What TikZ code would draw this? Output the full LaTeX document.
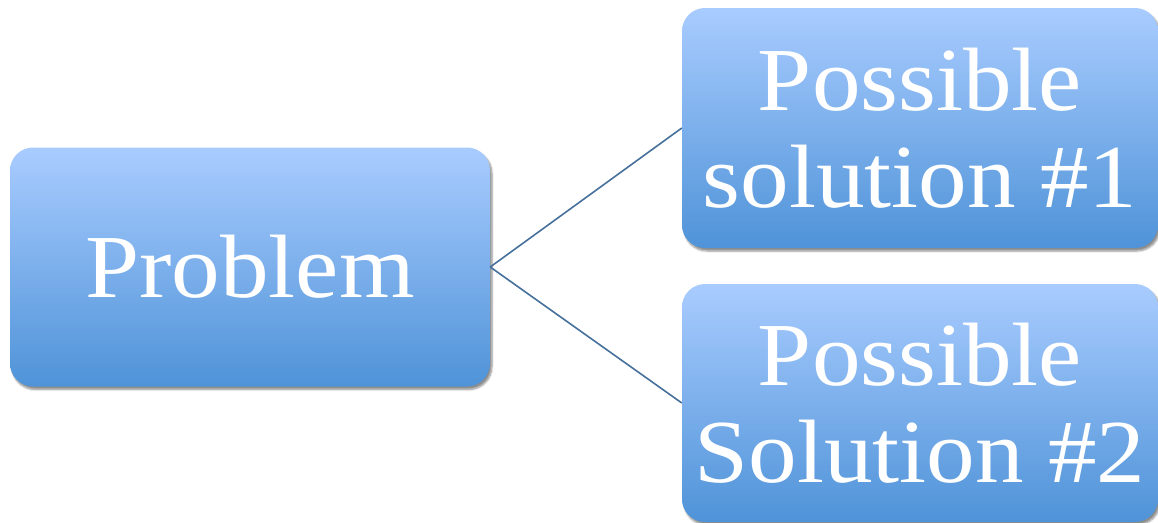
\documentclass[tikz,border=0pt]{standalone}
\usepackage{fontspec}
\setmainfont{Liberation Serif}[FakeStretch=1.08]
\usetikzlibrary{shadows.blur}
\definecolor{boxtop}{RGB}{169,204,255}
\definecolor{boxbot}{RGB}{79,147,216}
\definecolor{linkcol}{RGB}{70,112,156}
\tikzset{
  idea/.style={rectangle, rounded corners=23pt, top color=boxtop, bottom color=boxbot,
    draw=none, text=white, align=center, inner sep=0pt,
    font=\fontsize{90}{97}\selectfont,
    blur shadow={shadow xshift=2pt, shadow yshift=-3pt, shadow blur steps=6, shadow opacity=45}},
  link/.style={draw=linkcol, line width=1.6pt}
}
\begin{document}
\begin{tikzpicture}[x=1pt, y=-1pt]
  \useasboundingbox (0,0) rectangle (1158,522);
  \node[idea, minimum width=480pt, minimum height=239pt] (prob) at (250,267) {Problem};
  \node[idea, minimum width=476pt, minimum height=240pt] (sol1) at (920,128) {Possible\\solution \#1};
  \node[idea, minimum width=476pt, minimum height=238pt] (sol2) at (920,403) {Possible\\Solution \#2};
  \draw[link] (prob.east) -- (sol1.west);
  \draw[link] (prob.east) -- (sol2.west);
\end{tikzpicture}
\end{document}
